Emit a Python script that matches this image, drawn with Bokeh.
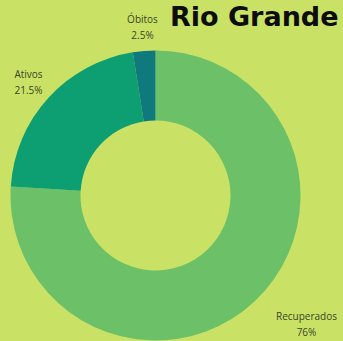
import math
from bokeh.plotting import figure
from bokeh.models import ColumnDataSource, GlobalInlineStyleSheet
from bokeh.core.properties import value
from bokeh.embed import file_html
from bokeh.resources import INLINE

categories = ["Recuperados", "Ativos", "Óbitos"]
percents = [76.0, 21.5, 2.5]
pct_labels = ["76%", "21.5%", "2.5%"]
colors = ["#6cc067", "#0d9e72", "#0e7a7e"]
title_text = "Rio Grande"

W, H = 343, 341
BG = "#c9e266"

p = figure(width=W, height=H, x_range=(0, W), y_range=(0, H),
           output_backend="svg", toolbar_location=None, min_border=0,
           background_fill_color=BG, border_fill_color=BG, outline_line_color=None)
p.axis.visible = False
p.grid.visible = False

OFF = 0

def px(x):
    return x - OFF

def py(y):
    return H + OFF - y

total = sum(percents)
starts, ends = [], []
cum = 0.0
for v in percents:
    starts.append(math.pi / 2 - 2 * math.pi * cum / total)
    cum += v
    ends.append(math.pi / 2 - 2 * math.pi * cum / total)

src = ColumnDataSource(dict(start=starts, end=ends, color=colors, cat=categories))
p.annular_wedge(x=px(155), y=py(195), inner_radius=75, outer_radius=145,
                start_angle="start", end_angle="end", direction="clock",
                fill_color="color", line_color=None, source=src)

name_pos = {"Recuperados": (306, 315), "Ativos": (28, 73), "Óbitos": (142, 18)}
lx, ly1, ly2 = [], [], []
for c in categories:
    x, y = name_pos[c]
    lx.append(px(x)); ly1.append(py(y)); ly2.append(py(y + 16))
lsrc = ColumnDataSource(dict(x=lx, y1=ly1, y2=ly2, name=categories, pct=pct_labels))
for ycol, tcol in (("y1", "name"), ("y2", "pct")):
    p.text(x="x", y=ycol, text=tcol, source=lsrc, text_align="center",
           text_baseline="middle", text_font=value("Open Sans"),
           text_font_size="10px", text_color="#3b4424")

p.text(x=[px(338)], y=[py(16)], text=[title_text], text_align="right",
       text_baseline="alphabetic", text_font=value("DejaVu Sans"), text_font_style="bold",
       text_font_size="27px", text_color="#0d0d0d")

p.stylesheets = [GlobalInlineStyleSheet(css="html, body { background: %s; }" % BG)]

open("out.html", "w").write(file_html(p, INLINE))
